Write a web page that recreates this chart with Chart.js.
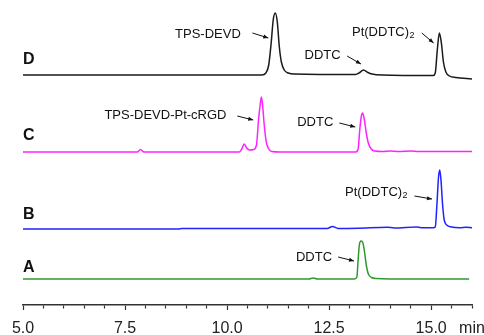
<!DOCTYPE html>
<html>
<head>
<meta charset="utf-8">
<script src="https://cdn.jsdelivr.net/npm/chart.js@4.4.0/dist/chart.umd.min.js"></script>
<style>
html, body { margin: 0; padding: 0; background: #fff; }
#wrap { width: 484px; height: 335px; }
</style>
</head>
<body>
<div id="wrap"><canvas id="myChart"></canvas></div>
<script>
// retention time (min) and signal of each run
const timeA = [5.0, 12.0, 12.11, 12.22, 13.12, 13.18, 13.21, 13.24, 13.28, 13.32, 13.36, 13.41, 13.46, 13.54, 13.65, 14.5, 15.93];
const sigA  = [26, 26, 27, 26, 26, 28, 45, 60, 64, 63, 55, 40, 31, 27.5, 26.5, 26, 26];

const timeB = [5.0, 8.8, 8.9, 12.45, 12.58, 12.72, 13.2, 13.92, 14.1, 14.65, 14.8, 15.05, 15.10, 15.14, 15.18, 15.21, 15.24, 15.28, 15.32, 15.38, 15.5, 15.7, 15.85, 16.0];
const sigB  = [76, 76, 76.4, 76.5, 78.5, 76.6, 76.8, 77.8, 77, 78, 77.2, 77.3, 78, 100, 128, 135, 125, 100, 85, 80, 78, 77.3, 77.8, 77.3];

const timeC = [5.0, 7.8, 7.88, 7.96, 10.30, 10.36, 10.42, 10.48, 10.55, 10.65, 10.72, 10.77, 10.81, 10.84, 10.87, 10.91, 10.96, 11.02, 11.1, 11.3,
               13.15, 13.21, 13.25, 13.29, 13.32, 13.36, 13.41, 13.46, 13.53, 13.62, 13.8, 14.0, 14.2, 14.5, 14.7, 16.0];
const sigC  = [153, 153, 155.5, 153, 153, 156, 161, 157, 155, 155.5, 160, 185, 200, 208, 200, 180, 163, 156, 153.5, 153,
               153, 156, 175, 189, 192, 186, 172, 162, 156, 154, 153.5, 154, 153.5, 154, 153.5, 153.5];

const timeD = [5.0, 10.85, 10.95, 11.02, 11.08, 11.13, 11.18, 11.23, 11.28, 11.33, 11.40, 11.50, 11.65,
               13.15, 13.25, 13.34, 13.45, 13.55, 13.8, 15.05, 15.10, 15.15, 15.20, 15.25, 15.30, 15.36, 15.45, 15.6, 16.0];
const sigD  = [230, 230, 232, 240, 262, 285, 292, 283, 258, 243, 235, 232, 231,
               230.5, 232.5, 235, 232.5, 231, 230, 229.5, 232, 255, 272, 262, 243, 233, 229, 227.5, 226];

const runNames = ['A', 'B', 'C', 'D'];
const runColors = ['#2e9a2e', '#2222ff', '#ff22ff', '#1a1a1a'];

const noteTexts = ['TPS-DEVD', 'DDTC', 'Pt(DDTC)_2', 'TPS-DEVD-Pt-cRGD', 'DDTC', 'Pt(DDTC)_2', 'DDTC'];
// [text x (min), text y, text align, arrow from x, y, arrow to x, y]
const noteSpots = [
    [9.53, 271, 'center', 10.62, 272, 11.01, 267],
    [12.34, 250, 'center', 12.94, 249, 13.28, 241],
    [13.06, 273, 'left', 14.77, 272, 15.06, 262],
    [8.49, 190, 'center', 10.25, 189, 10.64, 185],
    [12.16, 183, 'center', 12.75, 182, 13.14, 178],
    [12.89, 113, 'left', 14.59, 109, 15.02, 106],
    [12.13, 48, 'center', 12.72, 48, 13.11, 44]
];
const nameSpots = [37, 90, 169, 245];

const runs = [[timeA, sigA], [timeB, sigB], [timeC, sigC], [timeD, sigD]];

const notesPlugin = {
    id: 'notes',
    afterDatasetsDraw(chart) {
        const ctx = chart.ctx;
        const x = chart.scales.x, y = chart.scales.y;
        ctx.save();
        ctx.fillStyle = '#111';
        ctx.strokeStyle = '#111';
        ctx.lineWidth = 1;
        ctx.textBaseline = 'middle';
        ctx.font = 'bold 16px "Liberation Sans", Arial, sans-serif';
        ctx.textAlign = 'left';
        runNames.forEach(function (n, i) {
            ctx.fillText(n, x.getPixelForValue(5.0), y.getPixelForValue(nameSpots[i]));
        });
        noteTexts.forEach(function (txt, i) {
            const s = noteSpots[i];
            const parts = txt.split('_');
            ctx.font = '13px "Liberation Sans", Arial, sans-serif';
            let px = x.getPixelForValue(s[0]);
            const py = y.getPixelForValue(s[1]);
            ctx.textAlign = s[2];
            ctx.fillText(parts[0], px, py);
            if (parts[1]) {
                px += ctx.measureText(parts[0]).width;
                ctx.textAlign = 'left';
                ctx.font = '9px "Liberation Sans", Arial, sans-serif';
                ctx.fillText(parts[1], px + 0.5, py + 4);
            }
            const x1 = x.getPixelForValue(s[3]), y1 = y.getPixelForValue(s[4]);
            const x2 = x.getPixelForValue(s[5]), y2 = y.getPixelForValue(s[6]);
            ctx.beginPath();
            ctx.moveTo(x1, y1);
            ctx.lineTo(x2, y2);
            ctx.stroke();
            const a = Math.atan2(y2 - y1, x2 - x1);
            ctx.beginPath();
            ctx.moveTo(x2, y2);
            ctx.lineTo(x2 - 5 * Math.cos(a) + 2 * Math.sin(a), y2 - 5 * Math.sin(a) - 2 * Math.cos(a));
            ctx.lineTo(x2 - 5 * Math.cos(a) - 2 * Math.sin(a), y2 - 5 * Math.sin(a) + 2 * Math.cos(a));
            ctx.closePath();
            ctx.fill();
        });
        ctx.restore();
    }
};

function isMajor(v) {
    const k = (v - 5) / 2.5;
    return Math.abs(k - Math.round(k)) < 1e-6;
}

new Chart(document.getElementById('myChart'), {
    type: 'line',
    data: {
        datasets: runs.map(function (r, i) {
            return {
                label: runNames[i],
                data: r[0].map(function (t, j) { return { x: t, y: r[1][j] }; }),
                borderColor: runColors[i],
                borderWidth: 1.5,
                pointRadius: 0,
                cubicInterpolationMode: 'monotone',
                fill: false
            };
        })
    },
    options: {
        responsive: true,
        maintainAspectRatio: false,
        animation: false,
        layout: { padding: { left: 23, right: 12, top: 0, bottom: 0 } },
        plugins: { legend: { display: false }, tooltip: { enabled: false } },
        scales: {
            x: {
                type: 'linear',
                min: 5,
                max: 16,
                border: { display: true, color: '#333', width: 1.5 },
                grid: {
                    drawOnChartArea: false,
                    tickLength: 5,
                    tickColor: '#333',
                    tickWidth: 1.2,
                    tickBorderDash: function (c) { return isMajor(c.tick.value) ? [] : [3, 10]; }
                },
                ticks: {
                    stepSize: 0.5,
                    autoSkip: false,
                    maxRotation: 0,
                    padding: 9,
                    color: '#222',
                    font: { family: '"Liberation Sans", Arial, sans-serif', size: 16 },
                    callback: function (v) {
                        if (Math.abs(v - 16) < 1e-6) return 'min';
                        return isMajor(v) ? v.toFixed(1) : '';
                    }
                },
                afterFit: function (s) { s.paddingLeft = 0; s.paddingRight = 0; s.height = 30; }
            },
            y: { display: false, min: 0, max: 305 }
        }
    },
    plugins: [notesPlugin]
});
</script>
</body>
</html>
